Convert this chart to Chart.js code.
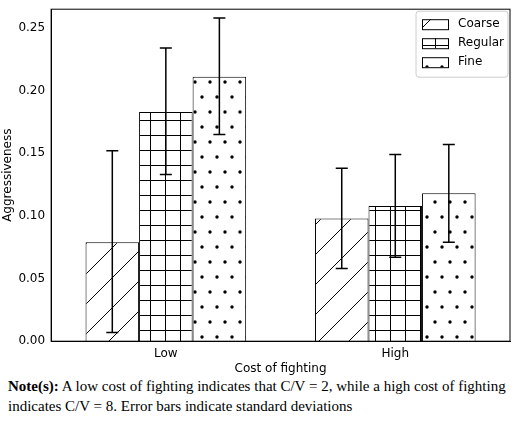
<!DOCTYPE html>
<html>
<head>
<meta charset="utf-8">
<script src="https://cdn.jsdelivr.net/npm/chart.js@4"></script>
<style>
  body { margin: 0; background: #fff; overflow: hidden; }
  #wrap { width: 520px; height: 376px; }
  .note { font-family: "Liberation Serif", serif; font-size: 15px; line-height: 20px; margin: 0 0 0 8px; width: 510px; }
</style>
</head>
<body>
<div id="wrap"><canvas id="myChart"></canvas></div>
<div class="note"><b>Note(s):</b> A low cost of fighting indicates that C/V = 2, while a high cost of fighting indicates C/V = 8. Error bars indicate standard deviations</div>
<script>
const categories = ["Low", "High"];
const seriesNames = ["Coarse", "Regular", "Fine"];
const coarse = [0.079, 0.098];
const regular = [0.183, 0.108];
const fine = [0.211, 0.118];
const coarseErr = [[0.007, 0.152], [0.058, 0.138]];
const regularErr = [[0.133, 0.234], [0.067, 0.149]];
const fineErr = [[0.165, 0.258], [0.079, 0.157]];
const yTicks = [0, 0.05, 0.1, 0.15, 0.2, 0.25];

function makePattern(kind) {
    const c = document.createElement("canvas");
    const s = kind === "coarse" ? 30 : 15;
    c.width = s; c.height = s;
    const g = c.getContext("2d");
    g.fillStyle = "#fff";
    g.fillRect(0, 0, s, s);
    g.strokeStyle = "#000";
    g.fillStyle = "#000";
    g.lineWidth = 1;
    if (kind === "coarse") {
        g.beginPath();
        g.moveTo(-1, s + 1); g.lineTo(s + 1, -1);
        g.stroke();
    } else if (kind === "grid") {
        g.beginPath();
        g.moveTo(0.5, 0); g.lineTo(0.5, s);
        g.moveTo(0, 0.5); g.lineTo(s, 0.5);
        g.stroke();
    } else {
        c.width = 30; c.height = 30;
        g.fillStyle = "#fff"; g.fillRect(0, 0, 30, 30);
        g.fillStyle = "#000";
        [[7, 7], [22, 7], [0, 22], [15, 22], [30, 22]].forEach(p => {
            g.beginPath(); g.arc(p[0], p[1], 1.7, 0, Math.PI * 2); g.fill();
        });
    }
    return g.createPattern(c, "repeat");
}

const patterns = [makePattern("coarse"), makePattern("grid"), makePattern("dots")];
const errs = [coarseErr, regularErr, fineErr];

const errorBars = {
    id: "errorBars",
    afterDatasetsDraw(chart) {
        const ctx = chart.ctx, y = chart.scales.y;
        ctx.save();
        ctx.strokeStyle = "#000";
        ctx.lineWidth = 1.5;
        chart.data.datasets.forEach((ds, i) => {
            chart.getDatasetMeta(i).data.forEach((bar, j) => {
                const lo = y.getPixelForValue(errs[i][j][0]);
                const hi = y.getPixelForValue(errs[i][j][1]);
                ctx.beginPath();
                ctx.moveTo(bar.x, lo); ctx.lineTo(bar.x, hi);
                ctx.moveTo(bar.x - 6, lo); ctx.lineTo(bar.x + 6, lo);
                ctx.moveTo(bar.x - 6, hi); ctx.lineTo(bar.x + 6, hi);
                ctx.stroke();
            });
        });
        // legend inside plot
        const a = chart.chartArea;
        const bx = a.right - 94, by = a.top + 2, bw = 92, bh = 66;
        ctx.fillStyle = "rgba(255,255,255,0.9)";
        ctx.strokeStyle = "#ccc";
        ctx.lineWidth = 1;
        ctx.beginPath(); ctx.roundRect(bx, by, bw, bh, 3); ctx.fill(); ctx.stroke();
        ctx.font = "12px 'DejaVu Sans'";
        ctx.textBaseline = "middle";
        seriesNames.forEach((n, i) => {
            const ry = by + 8 + i * 19;
            ctx.fillStyle = patterns[i];
            ctx.fillRect(bx + 6, ry, 26, 10);
            ctx.strokeStyle = "#000";
            ctx.strokeRect(bx + 6.5, ry + 0.5, 26, 10);
            ctx.fillStyle = "#000";
            ctx.fillText(n, bx + 42, ry + 5);
        });
        ctx.restore();
    }
};

new Chart(document.getElementById("myChart"), {
    type: "bar",
    data: {
        labels: categories,
        datasets: [coarse, regular, fine].map((d, i) => ({
            label: seriesNames[i],
            data: d,
            backgroundColor: patterns[i],
            borderColor: "#000",
            borderWidth: 1,
            categoryPercentage: 0.7,
            barPercentage: 1.0
        }))
    },
    options: {
        responsive: true,
        maintainAspectRatio: false,
        animation: false,
        layout: { padding: { top: 2, right: 10, left: 0, bottom: 0 } },
        plugins: { legend: { display: false }, tooltip: { enabled: false } },
        scales: {
            x: {
                grid: { display: false, drawTicks: true, tickLength: 4 },
                border: { color: "#000" },
                ticks: { color: "#000", padding: 1, font: { family: "DejaVu Sans", size: 12 } },
                title: { display: true, text: "Cost of fighting", color: "#000", font: { family: "DejaVu Sans", size: 12 }, padding: 0 }
            },
            y: {
                min: 0, max: 0.265,
                afterBuildTicks: s => { s.ticks = yTicks.map(v => ({ value: v })); },
                grid: { display: false, drawTicks: true, tickLength: 4 },
                border: { color: "#000" },
                ticks: { color: "#000", padding: 2, font: { family: "DejaVu Sans", size: 12 }, callback: v => v.toFixed(2) },
                title: { display: true, text: "Aggressiveness", color: "#000", font: { family: "DejaVu Sans", size: 12 }, padding: 1 }
            }
        }
    },
    plugins: [errorBars, {
        id: "frame",
        afterDraw(chart) {
            const a = chart.chartArea, ctx = chart.ctx;
            ctx.save(); ctx.strokeStyle = "#000"; ctx.lineWidth = 1;
            ctx.strokeRect(a.left, a.top, a.right - a.left, a.bottom - a.top);
            ctx.restore();
        }
    }]
});
</script>
</body>
</html>
